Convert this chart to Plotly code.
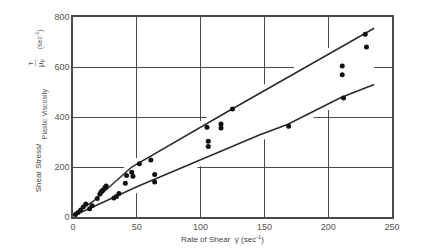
import plotly.graph_objects as go

# data points (rate of shear, shear stress / plastic viscosity)
shear_rate = [2, 4, 6, 8, 10, 13, 15, 19, 21, 22, 23, 25, 26, 32, 34, 36,
              41, 42, 46, 47, 52, 61, 64, 64, 105, 106, 106, 116, 116, 125,
              169, 211, 211, 212, 229, 230]
stress_ratio = [10, 18, 28, 40, 52, 33, 45, 74, 92, 100, 106, 118, 124, 76, 82, 94,
                135, 166, 179, 163, 213, 228, 170, 140, 359, 303, 282, 372, 356, 432,
                363, 604, 569, 476, 731, 680]

# envelope lines
upper_x = [0, 16, 46, 124, 236]
upper_y = [10, 63, 200, 430, 755]
lower_x = [0, 13, 50, 99, 146, 168, 210, 236]
lower_y = [5, 34, 121, 226, 328, 370, 478, 530]

x_ticks = [0, 50, 100, 150, 200, 250]
y_ticks = [0, 200, 400, 600, 800]

W, H = 435, 250
L, R, T, B = 72.7, 391.7, 13.7, 216.7
band_pad = 25

fig = go.Figure()

# white band occluding gridlines between envelope lines
fig.add_trace(go.Scatter(
    x=upper_x + lower_x[::-1],
    y=[v + band_pad for v in upper_y] + [v - band_pad for v in lower_y[::-1]],
    fill="toself", fillcolor="white", mode="none", hoverinfo="skip",
    showlegend=False))

line_style = dict(color="#2a2a2a", width=1.5)
fig.add_trace(go.Scatter(x=upper_x, y=upper_y, mode="lines", line=line_style,
                         showlegend=False))
fig.add_trace(go.Scatter(x=lower_x, y=lower_y, mode="lines", line=line_style,
                         showlegend=False))
fig.add_trace(go.Scatter(x=shear_rate, y=stress_ratio, mode="markers",
                         marker=dict(color="#111111", size=5), showlegend=False))

axis_common = dict(showgrid=True, gridcolor="#4a4a4a", gridwidth=1.3,
                   showline=True, linecolor="#4a4a4a", linewidth=1.5, mirror=True,
                   zeroline=False, ticks="",
                   tickfont=dict(family="Liberation Sans", size=9, color="#555555"))

fig.update_xaxes(range=[0, 250], tickvals=x_ticks, ticktext=[str(v) for v in x_ticks],
                 **axis_common)
fig.update_yaxes(range=[0, 800], tickvals=y_ticks, ticktext=[str(v) for v in y_ticks],
                 **axis_common)


def px(xp):
    return (xp - L) / (R - L)


def py(yp):
    return (B - yp) / (B - T)


font_main = dict(family="Liberation Sans", size=8, color="#444444")
font_small = dict(family="Liberation Sans", size=7, color="#555555")

ann = [
    dict(text="Rate of Shear  γ̇ (sec<sup>-1</sup>)", x=px(222), y=py(239), font=font_main, textangle=0),
    dict(text="Shear Stress/", x=px(38), y=py(167), font=font_main, textangle=-90),
    dict(text="Plastic Viscosity", x=px(45), y=py(112), font=font_small, textangle=-90),
    dict(text="τ", x=px(30), y=py(60), font=font_main, textangle=-90),
    dict(text="—", x=px(34.5), y=py(60), font=font_small, textangle=-90),
    dict(text="μ<sub>p</sub>", x=px(40), y=py(60), font=font_main, textangle=-90),
    dict(text="(sec<sup>-1</sup>)", x=px(40), y=py(36), font=font_small, textangle=-90),
]
for a in ann:
    fig.add_annotation(xref="paper", yref="paper", showarrow=False,
                       xanchor="center", yanchor="middle", **a)

fig.update_layout(
    width=W, height=H,
    margin=dict(l=L, r=W - R, t=T, b=H - B, pad=0),
    paper_bgcolor="white", plot_bgcolor="white",
    showlegend=False,
)

fig.write_html("out.html")
